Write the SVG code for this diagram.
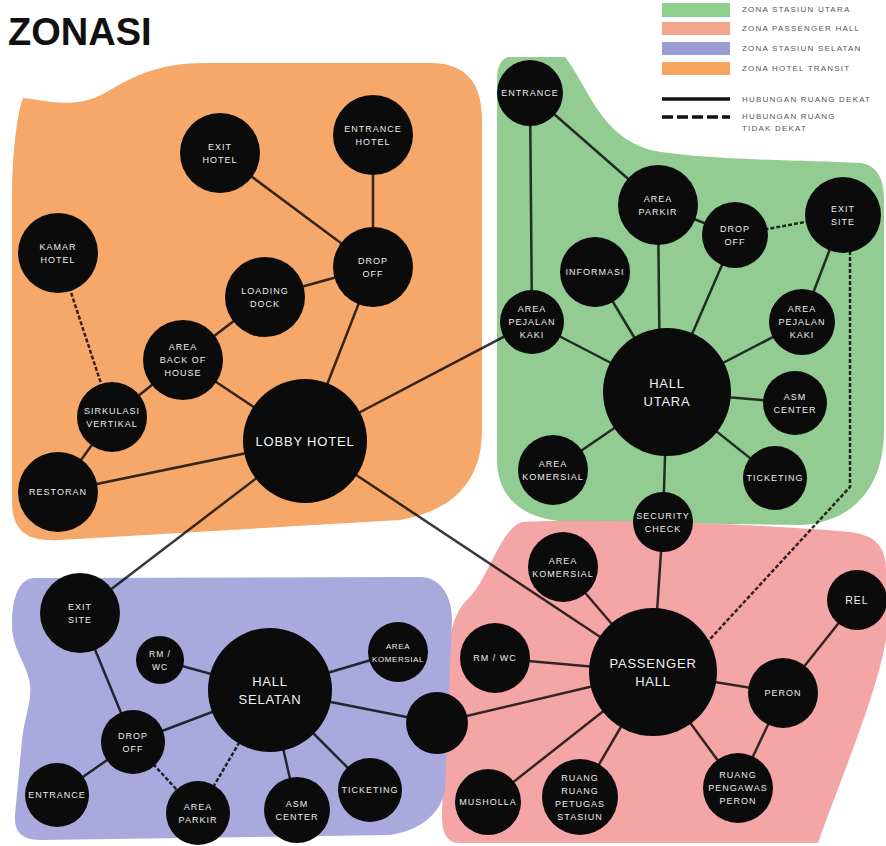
<svg xmlns="http://www.w3.org/2000/svg" width="886" height="846" viewBox="0 0 886 846">
<style>
.n{fill:#0b0b0b}
.t{fill:#ececec;font-family:"Liberation Sans",Arial,sans-serif;font-size:9px;letter-spacing:1px;text-anchor:middle}
.b{fill:#f2f2f2;font-family:"Liberation Sans",Arial,sans-serif;font-size:13px;letter-spacing:0.8px;text-anchor:middle}
.c{stroke:#000;stroke-opacity:0.78;stroke-width:2.5;fill:none}
.d{stroke:#000;stroke-opacity:0.8;stroke-width:2.5;fill:none;stroke-dasharray:4 2}
.lg{fill:#555;font-family:"Liberation Sans",Arial,sans-serif;font-size:8px;letter-spacing:1.2px}
</style>
<rect width="886" height="846" fill="#fff"/>
<text x="8" y="45" font-family="Liberation Sans, Arial, sans-serif" font-size="38" font-weight="bold" fill="#111">ZONASI</text>
<g id="legend">
<rect x="662" y="3" width="68" height="14" fill="#8dcf8d"/>
<rect x="662" y="22" width="68" height="13" fill="#f3a58b"/>
<rect x="662" y="42" width="68" height="13" fill="#9b9bd6"/>
<rect x="662" y="62" width="68" height="13" fill="#f6a45e"/>
<text class="lg" x="742" y="12">ZONA STASIUN UTARA</text>
<text class="lg" x="742" y="31">ZONA PASSENGER HALL</text>
<text class="lg" x="742" y="51">ZONA STASIUN SELATAN</text>
<text class="lg" x="742" y="71">ZONA HOTEL TRANSIT</text>
<line x1="662" y1="99" x2="730" y2="99" stroke="#111" stroke-width="3.5"/>
<line x1="662" y1="117" x2="730" y2="117" stroke="#111" stroke-width="3.5" stroke-dasharray="11 4"/>
<text class="lg" x="742" y="102">HUBUNGAN RUANG DEKAT</text>
<text class="lg" x="742" y="119">HUBUNGAN RUANG</text>
<text class="lg" x="742" y="131">TIDAK DEKAT</text>
</g>
<g id="zones">
<path id="zona-hotel" fill="#f5a86a" d="M23,98 C45,100 75,110 105,93 C135,75 160,63 205,63 L430,63 C468,63 482,85 482,120 L482,430 C482,480 455,510 400,520 L60,540 C25,542 12,530 12,500 L12,200 C12,150 18,110 23,98 Z"/>
<path id="zona-utara" fill="#92cc92" d="M510,57 L565,57 C590,90 600,135 650,150 C700,160 800,160 860,163 C878,165 884,180 884,200 L884,430 C884,490 850,523 800,525 L570,522 C520,520 497,495 497,460 L497,80 C497,65 502,57 510,57 Z"/>
<path id="zona-passenger" fill="#f4a5a5" d="M522,522 C600,518 780,525 850,532 C878,535 886,550 886,570 L886,640 C875,700 840,780 818,843 L460,843 C445,843 442,830 442,815 L446,680 C448,630 455,610 470,597 C490,575 500,530 522,522 Z"/>
<path id="zona-selatan" fill="#a9a9dd" d="M35,578 L420,577 C440,577 452,595 452,620 L445,790 C440,815 420,830 390,835 L40,840 C20,840 14,830 15,815 L22,740 C25,715 32,700 30,685 C28,665 12,650 12,625 C12,595 20,578 35,578 Z"/>
</g>
<g id="connectors">
<line class="c" x1="220" y1="153" x2="373" y2="267"/>
<line class="c" x1="373" y1="135" x2="373" y2="267"/>
<line class="c" x1="373" y1="267" x2="265" y2="297"/>
<line class="c" x1="265" y1="297" x2="183" y2="360"/>
<line class="c" x1="373" y1="267" x2="305" y2="441"/>
<line class="c" x1="183" y1="360" x2="305" y2="441"/>
<line class="c" x1="183" y1="360" x2="112" y2="417"/>
<line class="c" x1="112" y1="417" x2="58" y2="492"/>
<line class="c" x1="58" y1="492" x2="305" y2="441"/>
<line class="d" x1="58" y1="253" x2="112" y2="417"/>
<line class="c" x1="305" y1="441" x2="80" y2="613"/>
<line class="c" x1="305" y1="441" x2="532" y2="322"/>
<line class="c" x1="305" y1="441" x2="653" y2="672"/>
<line class="c" x1="530" y1="93" x2="658" y2="205"/>
<line class="c" x1="530" y1="93" x2="532" y2="322"/>
<line class="c" x1="658" y1="205" x2="735" y2="235"/>
<line class="c" x1="658" y1="205" x2="660" y2="392"/>
<line class="c" x1="735" y1="235" x2="667" y2="392"/>
<line class="d" x1="735" y1="235" x2="843" y2="215"/>
<line class="c" x1="843" y1="215" x2="802" y2="322"/>
<line class="c" x1="595" y1="272" x2="667" y2="392"/>
<line class="c" x1="532" y1="322" x2="667" y2="392"/>
<line class="c" x1="802" y1="322" x2="667" y2="392"/>
<line class="c" x1="795" y1="403" x2="667" y2="392"/>
<line class="c" x1="775" y1="478" x2="667" y2="392"/>
<line class="c" x1="553" y1="470" x2="667" y2="392"/>
<line class="c" x1="663" y1="522" x2="667" y2="392"/>
<line class="c" x1="663" y1="522" x2="653" y2="672"/>
<polyline class="d" points="850,215 850,487 700,650"/>
<line class="c" x1="563" y1="567" x2="653" y2="672"/>
<line class="c" x1="495" y1="658" x2="653" y2="672"/>
<line class="c" x1="437" y1="723" x2="653" y2="672"/>
<line class="c" x1="488" y1="802" x2="653" y2="672"/>
<line class="c" x1="580" y1="797" x2="653" y2="672"/>
<line class="c" x1="738" y1="788" x2="653" y2="672"/>
<line class="c" x1="783" y1="693" x2="653" y2="672"/>
<line class="c" x1="783" y1="693" x2="857" y2="600"/>
<line class="c" x1="783" y1="693" x2="738" y2="788"/>
<line class="c" x1="80" y1="613" x2="133" y2="742"/>
<line class="c" x1="160" y1="660" x2="270" y2="690"/>
<line class="c" x1="133" y1="742" x2="270" y2="690"/>
<line class="c" x1="133" y1="742" x2="57" y2="795"/>
<line class="d" x1="133" y1="742" x2="198" y2="813"/>
<line class="d" x1="198" y1="813" x2="270" y2="690"/>
<line class="c" x1="297" y1="810" x2="270" y2="690"/>
<line class="c" x1="370" y1="790" x2="270" y2="690"/>
<line class="c" x1="398" y1="652" x2="270" y2="690"/>
<line class="c" x1="270" y1="690" x2="437" y2="723"/>
</g>
<g id="exit-hotel"><circle class="n" cx="220" cy="153" r="40"/><text class="t" x="220" y="149.7">EXIT</text><text class="t" x="220" y="162.7">HOTEL</text></g>
<g id="entrance-hotel"><circle class="n" cx="373" cy="135" r="40"/><text class="t" x="373" y="131.7">ENTRANCE</text><text class="t" x="373" y="144.7">HOTEL</text></g>
<g id="drop-off-hotel"><circle class="n" cx="373" cy="267" r="40"/><text class="t" x="373" y="263.7">DROP</text><text class="t" x="373" y="276.7">OFF</text></g>
<g id="loading-dock"><circle class="n" cx="265" cy="297" r="40"/><text class="t" x="265" y="293.7">LOADING</text><text class="t" x="265" y="306.7">DOCK</text></g>
<g id="kamar-hotel"><circle class="n" cx="58" cy="253" r="40"/><text class="t" x="58" y="249.7">KAMAR</text><text class="t" x="58" y="262.7">HOTEL</text></g>
<g id="area-back-of-house"><circle class="n" cx="183" cy="360" r="40"/><text class="t" x="183" y="350.2">AREA</text><text class="t" x="183" y="363.2">BACK OF</text><text class="t" x="183" y="376.2">HOUSE</text></g>
<g id="sirkulasi-vertikal"><circle class="n" cx="112" cy="417" r="35"/><text class="t" x="112" y="413.7">SIRKULASI</text><text class="t" x="112" y="426.7">VERTIKAL</text></g>
<g id="restoran"><circle class="n" cx="58" cy="492" r="40"/><text class="t" x="58" y="495.2">RESTORAN</text></g>
<g id="lobby-hotel"><circle class="n" cx="305" cy="441" r="62"/><text class="b" x="305" y="445.7">LOBBY HOTEL</text></g>
<g id="entrance-utara"><circle class="n" cx="530" cy="93" r="33"/><text class="t" x="530" y="96.2">ENTRANCE</text></g>
<g id="area-parkir-utara"><circle class="n" cx="658" cy="205" r="40"/><text class="t" x="658" y="201.7">AREA</text><text class="t" x="658" y="214.7">PARKIR</text></g>
<g id="drop-off-utara"><circle class="n" cx="735" cy="235" r="33"/><text class="t" x="735" y="231.7">DROP</text><text class="t" x="735" y="244.7">OFF</text></g>
<g id="exit-site-utara"><circle class="n" cx="843" cy="215" r="38"/><text class="t" x="843" y="211.7">EXIT</text><text class="t" x="843" y="224.7">SITE</text></g>
<g id="informasi"><circle class="n" cx="595" cy="272" r="35"/><text class="t" x="595" y="275.2">INFORMASI</text></g>
<g id="pejalan-kaki-1"><circle class="n" cx="532" cy="322" r="32"/><text class="t" x="532" y="312.2">AREA</text><text class="t" x="532" y="325.2">PEJALAN</text><text class="t" x="532" y="338.2">KAKI</text></g>
<g id="pejalan-kaki-2"><circle class="n" cx="802" cy="322" r="33"/><text class="t" x="802" y="312.2">AREA</text><text class="t" x="802" y="325.2">PEJALAN</text><text class="t" x="802" y="338.2">KAKI</text></g>
<g id="hall-utara"><circle class="n" cx="667" cy="392" r="64"/><text class="b" x="667" y="387.7">HALL</text><text class="b" x="667" y="405.7">UTARA</text></g>
<g id="asm-center-utara"><circle class="n" cx="795" cy="403" r="32"/><text class="t" x="795" y="399.7">ASM</text><text class="t" x="795" y="412.7">CENTER</text></g>
<g id="ticketing-utara"><circle class="n" cx="775" cy="478" r="32"/><text class="t" x="775" y="481.2">TICKETING</text></g>
<g id="komersial-utara"><circle class="n" cx="553" cy="470" r="35"/><text class="t" x="553" y="466.7">AREA</text><text class="t" x="553" y="479.7">KOMERSIAL</text></g>
<g id="security-check"><circle class="n" cx="663" cy="522" r="30"/><text class="t" x="663" y="518.7">SECURITY</text><text class="t" x="663" y="531.7">CHECK</text></g>
<g id="passenger-hall"><circle class="n" cx="653" cy="672" r="64"/><text class="b" x="653" y="667.7">PASSENGER</text><text class="b" x="653" y="685.7">HALL</text></g>
<g id="komersial-ph"><circle class="n" cx="563" cy="567" r="35"/><text class="t" x="563" y="563.7">AREA</text><text class="t" x="563" y="576.7">KOMERSIAL</text></g>
<g id="rm-wc-ph"><circle class="n" cx="495" cy="658" r="35"/><text class="t" x="495" y="661.2">RM / WC</text></g>
<g id="node-blank"><circle class="n" cx="437" cy="723" r="31"/></g>
<g id="musholla"><circle class="n" cx="488" cy="802" r="33"/><text class="t" x="488" y="805.2">MUSHOLLA</text></g>
<g id="ruang-petugas"><circle class="n" cx="580" cy="797" r="38"/><text class="t" x="580" y="780.7">RUANG</text><text class="t" x="580" y="793.7">RUANG</text><text class="t" x="580" y="806.7">PETUGAS</text><text class="t" x="580" y="819.7">STASIUN</text></g>
<g id="ruang-pengawas"><circle class="n" cx="738" cy="788" r="35"/><text class="t" x="738" y="778.2">RUANG</text><text class="t" x="738" y="791.2">PENGAWAS</text><text class="t" x="738" y="804.2">PERON</text></g>
<g id="peron"><circle class="n" cx="783" cy="693" r="35"/><text class="t" x="783" y="696.2">PERON</text></g>
<g id="rel"><circle class="n" cx="857" cy="600" r="30"/><text class="t" x="857" y="603.7" style="font-size:10.5px">REL</text></g>
<g id="exit-site-selatan"><circle class="n" cx="80" cy="613" r="40"/><text class="t" x="80" y="609.7">EXIT</text><text class="t" x="80" y="622.7">SITE</text></g>
<g id="rm-wc-selatan"><circle class="n" cx="160" cy="660" r="24"/><text class="t" x="160" y="656.7" style="font-size:8.5px">RM /</text><text class="t" x="160" y="669.7" style="font-size:8.5px">WC</text></g>
<g id="hall-selatan"><circle class="n" cx="270" cy="690" r="62"/><text class="b" x="270" y="685.7">HALL</text><text class="b" x="270" y="703.7">SELATAN</text></g>
<g id="drop-off-selatan"><circle class="n" cx="133" cy="742" r="32"/><text class="t" x="133" y="738.7">DROP</text><text class="t" x="133" y="751.7">OFF</text></g>
<g id="entrance-selatan"><circle class="n" cx="57" cy="795" r="32"/><text class="t" x="57" y="798.2">ENTRANCE</text></g>
<g id="area-parkir-selatan"><circle class="n" cx="198" cy="813" r="32"/><text class="t" x="198" y="809.7">AREA</text><text class="t" x="198" y="822.7">PARKIR</text></g>
<g id="asm-center-selatan"><circle class="n" cx="297" cy="810" r="33"/><text class="t" x="297" y="806.7">ASM</text><text class="t" x="297" y="819.7">CENTER</text></g>
<g id="ticketing-selatan"><circle class="n" cx="370" cy="790" r="32"/><text class="t" x="370" y="793.2">TICKETING</text></g>
<g id="komersial-selatan"><circle class="n" cx="398" cy="652" r="30"/><text class="t" x="398" y="648.7" style="font-size:8px;letter-spacing:0.6px">AREA</text><text class="t" x="398" y="661.7" style="font-size:8px;letter-spacing:0.6px">KOMERSIAL</text></g>
</svg>
